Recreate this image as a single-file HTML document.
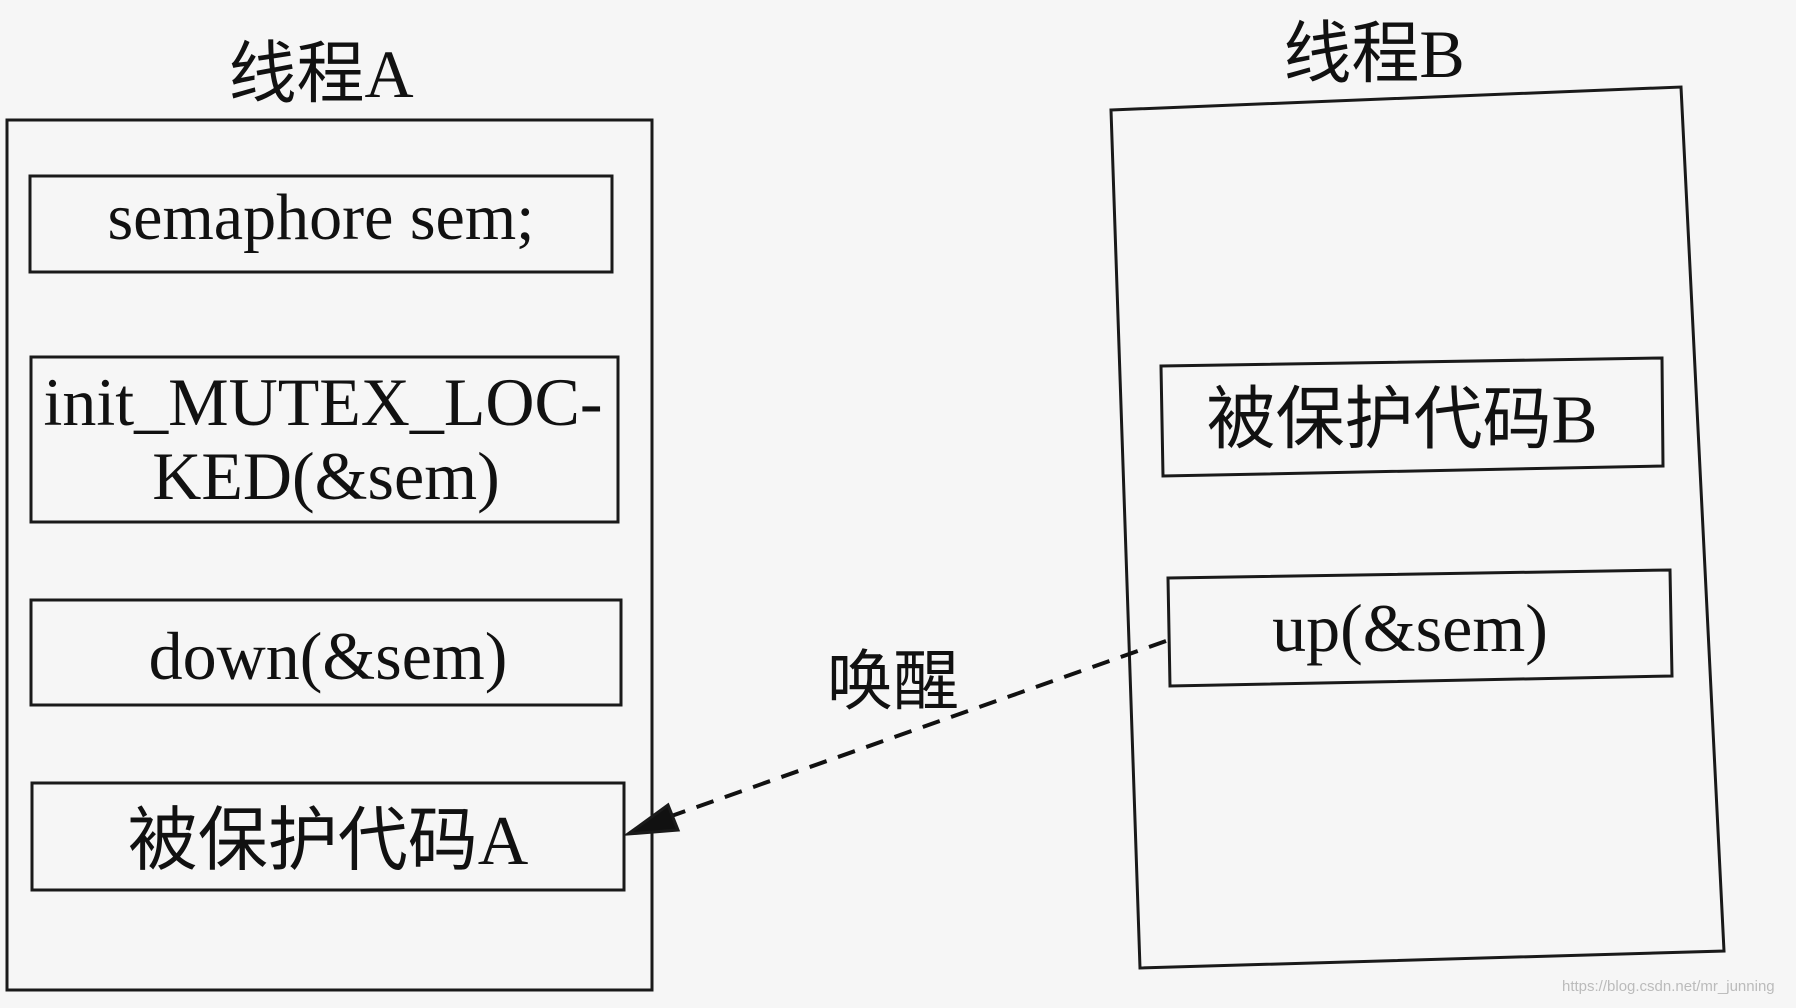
<!DOCTYPE html>
<html><head><meta charset="utf-8"><style>
html,body{margin:0;padding:0;background:#f6f6f6;}
body{width:1796px;height:1008px;position:relative;overflow:hidden;font-family:"Liberation Serif","Noto Serif CJK SC",serif;color:#111;}
.t{position:absolute;text-align:center;white-space:nowrap;transform:translate(-50%,-50%);line-height:1;}
.c{font-family:'Liberation Serif','Noto Sans CJK SC',serif;}
</style></head><body>
<svg style="position:absolute;left:0;top:0" width="1796" height="1008" fill="none" stroke="#1a1a1a" stroke-width="3">
<rect x="7" y="120" width="645" height="870"/>
<polygon points="1111,110 1681,87 1724,951 1140,968"/>
<rect x="30" y="176" width="582" height="96"/>
<rect x="31" y="357" width="587" height="165"/>
<rect x="31" y="600" width="590" height="105"/>
<rect x="32" y="783" width="592" height="107"/>
<polygon points="1161,366 1662,358 1663,466 1163,476"/>
<polygon points="1168,578 1670,570 1672,676 1170,686"/>
<line x1="1166" y1="641" x2="660" y2="820" stroke="#111" stroke-width="4" stroke-dasharray="18,12"/>
<polygon points="628,834 668,805 678,830" fill="#111"/>
</svg>

<div class="t c" style="left:321px;top:74px;font-size:68px;">线程A</div>
<div class="t c" style="left:1374px;top:54px;font-size:68px;">线程B</div>
<div class="t" style="left:321px;top:218px;font-size:66px;">semaphore sem;</div>
<div class="t" style="left:323px;top:402px;font-size:68px;">init_MUTEX_LOC-</div>
<div class="t" style="left:326px;top:476px;font-size:68px;">KED(&amp;sem)</div>
<div class="t" style="left:328px;top:656px;font-size:68px;">down(&amp;sem)</div>
<div class="t c" style="left:328px;top:842px;font-size:70px;">被保护代码A</div>
<div class="t c" style="left:1402px;top:420px;font-size:69px;">被保护代码B</div>
<div class="t" style="left:1410px;top:628px;font-size:68px;">up(&amp;sem)</div>
<div class="t" style="left:893px;top:676px;font-size:66px;font-family:'Noto Sans CJK SC',sans-serif;">唤醒</div>
<div style="position:absolute;left:1562px;top:978px;font-size:15px;color:#bbb;font-family:'Liberation Sans',sans-serif;">https://blog.csdn.net/mr_junning</div>
</body></html>
